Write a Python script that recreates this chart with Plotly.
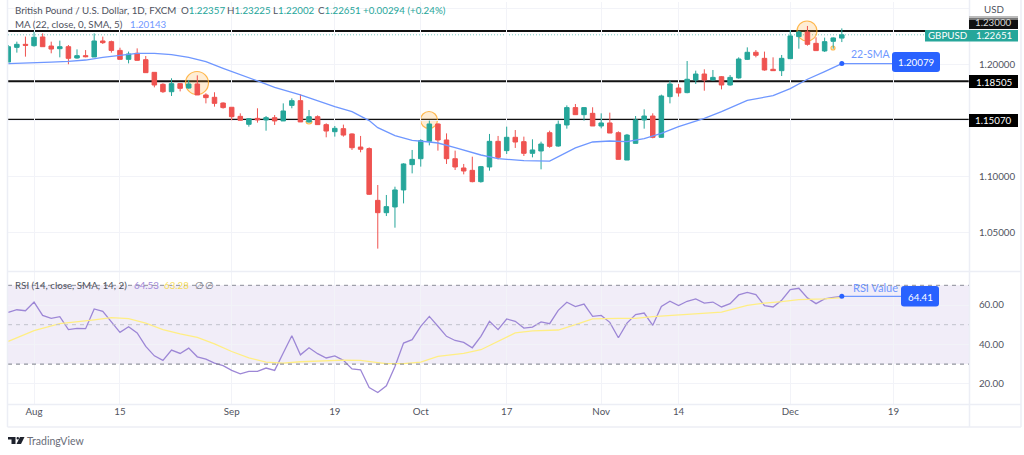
import plotly.graph_objects as go
from plotly.subplots import make_subplots

W, H = 1024, 455

# bar number counted in trading days from 1 Aug
bars = list(range(-3, 95))
open_p = [1.2022, 1.2153, 1.2180, 1.2168, 1.2246, 1.2165, 1.2141, 1.2159, 1.2058, 1.2079,
          1.2067, 1.2210, 1.2204, 1.2126, 1.2046, 1.2100, 1.2043, 1.1930, 1.1823, 1.1757,
          1.1829, 1.1790, 1.1826, 1.1728, 1.1707, 1.1656, 1.1618, 1.1537, 1.1466, 1.1519,
          1.1505, 1.1525, 1.1496, 1.1635, 1.1677, 1.1487, 1.1534, 1.1463, 1.1400, 1.1427,
          1.1380, 1.1263, 1.1249, 1.0787, 1.0677, 1.0728, 1.0880, 1.1106, 1.1159, 1.1314,
          1.1469, 1.1326, 1.1159, 1.1076, 1.1055, 1.0954, 1.1085, 1.1314, 1.1231, 1.1350,
          1.1311, 1.1207, 1.1228, 1.1391, 1.1272, 1.1460, 1.1615, 1.1552, 1.1564, 1.1451,
          1.1478, 1.1391, 1.1147, 1.1296, 1.1505, 1.1540, 1.1350, 1.1713, 1.1790, 1.1749,
          1.1862, 1.1915, 1.1862, 1.1891, 1.1817, 1.1880, 1.2046, 1.2109, 1.2055, 1.1957,
          1.1945, 1.2052, 1.2249, 1.2290, 1.2189, 1.2121, 1.2207, 1.22357]
high_p = [1.2174, 1.2204, 1.2249, 1.2293, 1.2278, 1.2204, 1.2213, 1.2174, 1.2135, 1.2129,
          1.2278, 1.2249, 1.2213, 1.2150, 1.2115, 1.2144, 1.2076, 1.1930, 1.1832, 1.1877,
          1.1832, 1.1862, 1.1903, 1.1743, 1.1752, 1.1662, 1.1618, 1.1564, 1.1519, 1.1609,
          1.1540, 1.1549, 1.1653, 1.1698, 1.1734, 1.1594, 1.1546, 1.1475, 1.1451, 1.1463,
          1.1385, 1.1362, 1.1260, 1.0924, 1.0835, 1.0909, 1.1118, 1.1237, 1.1332, 1.1499,
          1.1475, 1.1385, 1.1231, 1.1112, 1.1177, 1.1094, 1.1380, 1.1362, 1.1445, 1.1415,
          1.1356, 1.1332, 1.1311, 1.1409, 1.1499, 1.1635, 1.1647, 1.1618, 1.1618, 1.1564,
          1.1570, 1.1403, 1.1380, 1.1540, 1.1600, 1.1564, 1.1731, 1.1856, 1.1826, 1.2031,
          1.1945, 1.1957, 1.1951, 1.1897, 1.1906, 1.2064, 1.2153, 1.2129, 1.2115, 1.2064,
          1.2085, 1.2308, 1.2302, 1.2344, 1.2243, 1.2240, 1.2243, 1.23225]
low_p = [1.2022, 1.2106, 1.2070, 1.2159, 1.2159, 1.2100, 1.2064, 1.2002, 1.2052, 1.2064,
         1.2067, 1.2183, 1.2106, 1.2046, 1.2010, 1.2034, 1.1924, 1.1796, 1.1746, 1.1719,
         1.1760, 1.1784, 1.1728, 1.1653, 1.1624, 1.1606, 1.1502, 1.1499, 1.1445, 1.1481,
         1.1409, 1.1460, 1.1496, 1.1609, 1.1487, 1.1481, 1.1460, 1.1350, 1.1356, 1.1356,
         1.1237, 1.1216, 1.0835, 1.0356, 1.0647, 1.0543, 1.0760, 1.1028, 1.1088, 1.1278,
         1.1231, 1.1112, 1.1058, 1.1019, 1.0948, 1.0945, 1.1052, 1.1153, 1.1201, 1.1255,
         1.1183, 1.1171, 1.1064, 1.1257, 1.1266, 1.1427, 1.1549, 1.1499, 1.1451, 1.1430,
         1.1388, 1.1153, 1.1147, 1.1296, 1.1427, 1.1341, 1.1347, 1.1653, 1.1713, 1.1743,
         1.1826, 1.1766, 1.1856, 1.1778, 1.1811, 1.1874, 1.2040, 1.2064, 1.1945, 1.1942,
         1.1897, 1.2049, 1.2141, 1.2168, 1.2121, 1.2112, 1.2141, 1.22002]
close_p = [1.2159, 1.2180, 1.2171, 1.2243, 1.2159, 1.2138, 1.2159, 1.2055, 1.2079, 1.2070,
           1.2210, 1.2195, 1.2126, 1.2046, 1.2094, 1.2037, 1.1927, 1.1817, 1.1757, 1.1829,
           1.1787, 1.1826, 1.1728, 1.1704, 1.1653, 1.1615, 1.1534, 1.1502, 1.1516, 1.1505,
           1.1525, 1.1496, 1.1585, 1.1677, 1.1487, 1.1534, 1.1463, 1.1406, 1.1430, 1.1370,
           1.1257, 1.1243, 1.0841, 1.0677, 1.0731, 1.0880, 1.1112, 1.1153, 1.1320, 1.1469,
           1.1326, 1.1159, 1.1085, 1.1049, 1.0954, 1.1088, 1.1314, 1.1171, 1.1350, 1.1308,
           1.1207, 1.1237, 1.1290, 1.1269, 1.1466, 1.1615, 1.1552, 1.1615, 1.1451, 1.1478,
           1.1388, 1.1153, 1.1370, 1.1505, 1.1540, 1.1350, 1.1719, 1.1826, 1.1746, 1.1868,
           1.1915, 1.1862, 1.1885, 1.1817, 1.1885, 1.2049, 1.2109, 1.2082, 1.1951, 1.1945,
           1.2055, 1.2255, 1.2290, 1.2180, 1.2124, 1.2204, 1.2237, 1.22651]

sma_bars = [-3, 0, 2, 4, 6, 8, 10, 12, 14, 16, 18, 20, 22, 24, 26, 28, 31, 35, 37, 39, 40, 42, 44,
            46, 47, 49, 52, 54, 57, 60, 62, 63, 65, 67, 69, 71, 73, 75, 78, 80, 83, 86, 88, 90, 92, 94]
sma_vals = [1.2007, 1.2013, 1.2022, 1.2028, 1.2040, 1.2064, 1.2085, 1.2100, 1.2100, 1.2088, 1.2064,
            1.2025, 1.1966, 1.1906, 1.1853, 1.1796, 1.1728, 1.1624, 1.1579, 1.1499, 1.1436, 1.1365,
            1.1323, 1.1308, 1.1299, 1.1257, 1.1192, 1.1159, 1.1141, 1.1138, 1.1213, 1.1255, 1.1308,
            1.1317, 1.1311, 1.1338, 1.1385, 1.1445, 1.1519, 1.1579, 1.1680, 1.1722, 1.1784, 1.1868,
            1.1936, 1.20079]

rsi_vals = [56.3, 57.6, 57.1, 61.5, 54.7, 53.2, 54.1, 47.5, 48.1, 48.0, 58.0, 56.8, 51.4, 46.1, 49.0,
            45.8, 39.0, 34.2, 31.9, 37.1, 35.4, 38.1, 33.7, 32.5, 30.5, 29.2, 26.8, 25.1, 26.3, 26.3,
            28.0, 26.8, 35.6, 44.4, 34.7, 38.3, 35.3, 33.1, 34.2, 31.9, 27.6, 27.1, 18.1, 15.6, 19.0,
            28.8, 40.7, 42.4, 49.2, 54.2, 49.2, 44.1, 42.0, 41.0, 38.3, 44.1, 51.7, 47.5, 52.9, 51.7,
            48.3, 48.8, 51.4, 50.5, 57.3, 61.4, 59.2, 60.5, 54.2, 54.7, 51.2, 43.4, 50.8, 55.1, 55.9,
            49.7, 59.3, 61.9, 59.7, 61.9, 63.1, 61.0, 61.5, 59.0, 60.7, 65.1, 66.4, 65.3, 59.7, 59.0,
            62.4, 67.8, 68.5, 63.6, 60.7, 63.1, 63.9, 64.41]

rsi_ma_bars = [-3, 0, 3, 5, 7, 9, 11, 13, 15, 17, 19, 21, 23, 25, 27, 29, 31, 36, 38, 40, 41, 43, 45,
               47, 50, 52, 54, 56, 58, 61, 63, 65, 68, 70, 72, 76, 80, 83, 85, 87, 89, 92, 94]
rsi_ma_vals = [41.5, 47.0, 50.5, 51.4, 52.5, 53.6, 53.1, 50.8, 47.5, 45.3, 43.6, 40.3, 36.4, 33.2, 31.0,
               30.5, 31.2, 32.0, 31.9, 30.8, 30.2, 30.2, 31.0, 33.9, 35.4, 37.3, 41.5, 45.8, 46.9, 47.3,
               50.0, 53.0, 53.2, 53.2, 54.1, 55.4, 56.4, 59.8, 61.0, 61.7, 62.7, 63.1, 63.7]

levels = [1.23, 1.18505, 1.1507]
level_labels = ["1.23000", "1.18505", "1.15070"]
last_price = 1.22651
sma_last = 1.20079
rsi_last = 64.41

price_ticks = [1.25, 1.20, 1.15, 1.10, 1.05]
price_text = ["", "1.20000", "", "1.10000", "1.05000"]
rsi_ticks = [60, 40, 20]
rsi_text = ["60.00", "40.00", "20.00"]
rsi_bands = [70, 50, 30]
time_ticks = [0, 10, 23, 35, 45, 55, 66, 75, 88, 100]
time_text = ["Aug", "15", "Sep", "19", "Oct", "17", "Nov", "14", "Dec", "19"]

FONT = "Lato"
GREEN, RED = "#26a69a", "#ef5350"
BLUE, TAG_BLUE = "#6f97ff", "#2962ff"
TEXT = "#50535e"
GRID = "#f2f3f8"
FRAME = "#eceef5"


def px(x):
    return x / W


def py(y):
    return 1 - y / H


def bar_at(x):
    # pixel column to bar number, only used for the hand drawn tags
    return (x - 34) / 8.593


def rounded(x0, y0, x1, y1, r=3):
    a, b, c, d = px(x0), py(y0), px(x1), py(y1)
    rx, ry = r / W, r / H
    return (f"M{a + rx},{b} L{c - rx},{b} Q{c},{b} {c},{b - ry} L{c},{d + ry} Q{c},{d} {c - rx},{d} "
            f"L{a + rx},{d} Q{a},{d} {a},{d + ry} L{a},{b - ry} Q{a},{b} {a + rx},{b} Z")


fig = make_subplots(rows=2, cols=1, shared_xaxes=True)

fig.add_trace(go.Candlestick(x=bars, open=open_p, high=high_p, low=low_p, close=close_p,
                             increasing=dict(line=dict(color=GREEN, width=1), fillcolor=GREEN),
                             decreasing=dict(line=dict(color=RED, width=1), fillcolor=RED),
                             whiskerwidth=0, hoverinfo="skip"), row=1, col=1)
fig.add_trace(go.Scatter(x=sma_bars, y=sma_vals, mode="lines", line=dict(color=BLUE, width=1.3)), row=1, col=1)
fig.add_trace(go.Scatter(x=[94, bar_at(892)], y=[sma_last, sma_last], mode="lines+markers",
                         line=dict(color=BLUE, width=1.2),
                         marker=dict(color=[TAG_BLUE, "rgba(0,0,0,0)"], size=5)), row=1, col=1)

fig.add_trace(go.Scatter(x=bars, y=rsi_vals, mode="lines", line=dict(color="#9d87d6", width=1.3)), row=2, col=1)
fig.add_trace(go.Scatter(x=rsi_ma_bars, y=rsi_ma_vals, mode="lines", line=dict(color="#ffee84", width=1.3)), row=2, col=1)
fig.add_trace(go.Scatter(x=[94, bar_at(902)], y=[rsi_last, rsi_last], mode="lines+markers",
                         line=dict(color=BLUE, width=1.2),
                         marker=dict(color=[TAG_BLUE, "rgba(0,0,0,0)"], size=5)), row=2, col=1)

# key levels and last price
for level in levels:
    fig.add_hline(y=level, line_color="#111111", line_width=2, layer="below", row=1, col=1)
fig.add_hline(y=last_price, line_color="#7cc9c2", line_width=1, line_dash="1px,2px", layer="below", row=1, col=1)

# rsi band
fig.add_hrect(y0=rsi_bands[2], y1=rsi_bands[0], fillcolor="#7e57c2", opacity=0.11, line_width=0, layer="below", row=2, col=1)
for band, colr in zip(rsi_bands, ["#8a8d98", "#c0c2cc", "#787b86"]):
    fig.add_hline(y=band, line_color=colr, line_width=1, line_dash="4px,4px", row=2, col=1)

shapes = []
# highlight circles
for cx, cy, r in [(197, 83, 11.5), (429, 120, 8.5), (807, 31, 10), (309, 121, 3), (833, 48, 2)]:
    shapes.append(dict(type="circle", xref="paper", yref="paper", x0=px(cx - r), x1=px(cx + r),
                       y0=py(cy + r), y1=py(cy - r), fillcolor="rgba(255,167,38,0.2)",
                       line=dict(color="rgba(255,167,38,0.8)", width=1.2), layer="below"))
# frame and pane dividers
for x0, y0, x1, y1 in [(7.5, 0, 7.5, 427), (1021, 0, 1021, 427), (7.5, 427, 1021, 427), (7.5, 271.5, 1021, 271.5),
                       (7.5, 404.5, 1021, 404.5), (969.5, 0, 969.5, 427)]:
    shapes.append(dict(type="line", xref="paper", yref="paper", x0=px(x0), x1=px(x1), y0=py(y0), y1=py(y1),
                       line=dict(color=FRAME, width=1.5)))
# price tags
for x0, y0, x1, y1, colr in [(969, 16, 1018, 18, "#bbbbbb"), (969, 18, 1018, 20, "#777777"), (969, 20, 1018, 29, "#111111"),
                             (969, 75, 1018, 88, "#000000"), (969, 114, 1018, 127, "#000000"),
                             (925, 30, 969, 41.5, GREEN), (969, 30, 1018, 41.5, GREEN)]:
    shapes.append(dict(type="rect", xref="paper", yref="paper", x0=px(x0), x1=px(x1), y0=py(y1), y1=py(y0),
                       fillcolor=colr, line_width=0))
for box in [(892, 52, 940, 72), (901, 286, 939, 306.5)]:
    shapes.append(dict(type="path", xref="paper", yref="paper", path=rounded(*box), fillcolor=TAG_BLUE, line_width=0))
# TradingView mark
for path in ["M8,437 L15.5,437 L15.5,444 L11.5,444 L11.5,439.5 L8,439.5 Z",
             "M20,437 L24.5,437 L21,444 L16.5,444 Z"]:
    pts = path.replace("M", "").replace(" Z", "").split(" L")
    conv = [f"{px(float(p.split(',')[0]))},{py(float(p.split(',')[1]))}" for p in pts]
    shapes.append(dict(type="path", xref="paper", yref="paper", path="M" + " L".join(conv) + " Z",
                       fillcolor="#1e222d", line_width=0))
shapes.append(dict(type="circle", xref="paper", yref="paper", x0=px(16.5), x1=px(19), y0=py(439.6), y1=py(437),
                   fillcolor="#1e222d", line_width=0))
for s in shapes:
    fig.add_shape(**s)


def label(x, y, text, color=TEXT, size=9.75, anchor="left", weight=None):
    fig.add_annotation(xref="paper", yref="paper", x=px(x), y=py(y), text=text, showarrow=False,
                       xanchor=anchor, yanchor="middle", borderpad=0,
                       font=dict(family=FONT, size=size, color=color, weight=weight))


# legend rows
label(14, 10, "British Pound / U.S. Dollar, 1D, FXCM")
for x, head, val in [(180, "O", "1.22357"), (226, "H", "1.23225"), (272, "L", "1.22002"), (317, "C", "1.22651")]:
    label(x, 10, f'{head}<span style="color:{GREEN}">{val}</span>')
label(362, 10, "+0.00294 (+0.24%)", color=GREEN)
label(14, 24, "MA (22, close, 0, SMA, 5)")
label(129, 24, "1.20143", color=BLUE)
label(14, 284.5, "RSI (14, close, SMA, 14, 2)")
label(133, 284.5, "64.53", color="#9d87d6")
label(163, 284.5, "63.28", color="#f5dc5a")
label(194, 284.5, "∅", color="#777a85")
label(204, 284.5, "∅", color="#777a85")

# right scale
label(994, 9, "USD", anchor="center")
label(993.5, 22, level_labels[0], color="#d8d8d8", anchor="center")
label(993.5, 81.5, level_labels[1], color="white", anchor="center")
label(993.5, 120.5, level_labels[2], color="white", anchor="center")
label(947, 35.5, "GBPUSD", color="white", anchor="center")
label(993.5, 35.5, f"{last_price:.5f}", color="white", anchor="center")

# drawn callouts
label(916, 62.5, f"{sma_last:.5f}", color="white", anchor="center")
label(871, 54, "22-SMA", color=BLUE, anchor="center", size=10.5)
label(920, 296.5, f"{rsi_last:.2f}", color="white", anchor="center")
label(875, 287.5, "RSI Value", color=BLUE, anchor="center", size=11)

label(26, 441, "TradingView", color="#6a6d78", size=10.5)

fig.update_yaxes(side="right", tickmode="array", showgrid=True, gridcolor=GRID, gridwidth=1, zeroline=False,
                 showline=False, ticks="outside", ticklen=7, tickcolor="rgba(0,0,0,0)",
                 tickfont=dict(family=FONT, size=9.75, color=TEXT))
fig.update_yaxes(domain=[py(271.5), py(2)], range=[1.01518, 1.2558], tickvals=price_ticks, ticktext=price_text, row=1, col=1)
fig.update_yaxes(domain=[py(404.5), py(272)], range=[9.5, 76.75], tickvals=rsi_ticks, ticktext=rsi_text, row=2, col=1)

fig.update_xaxes(domain=[px(8), px(969)], range=[-3.03, 108.8], tickmode="array", tickvals=time_ticks, ticktext=time_text,
                 showgrid=True, gridcolor=GRID, gridwidth=1, zeroline=False, showline=False, ticks="",
                 rangeslider_visible=False, tickfont=dict(family=FONT, size=9.75, color=TEXT))
fig.update_xaxes(showticklabels=False, row=1, col=1)

fig.update_layout(width=W, height=H, autosize=False, margin=dict(l=0, r=0, t=0, b=0), showlegend=False,
                  paper_bgcolor="white", plot_bgcolor="white", hovermode=False, boxgap=0.25)

# the page's default body margin would push the figure off the window
fig.write_html("out.html", config={"displayModeBar": False},
               post_script="document.body.style.margin='0';document.body.style.overflow='hidden';")
